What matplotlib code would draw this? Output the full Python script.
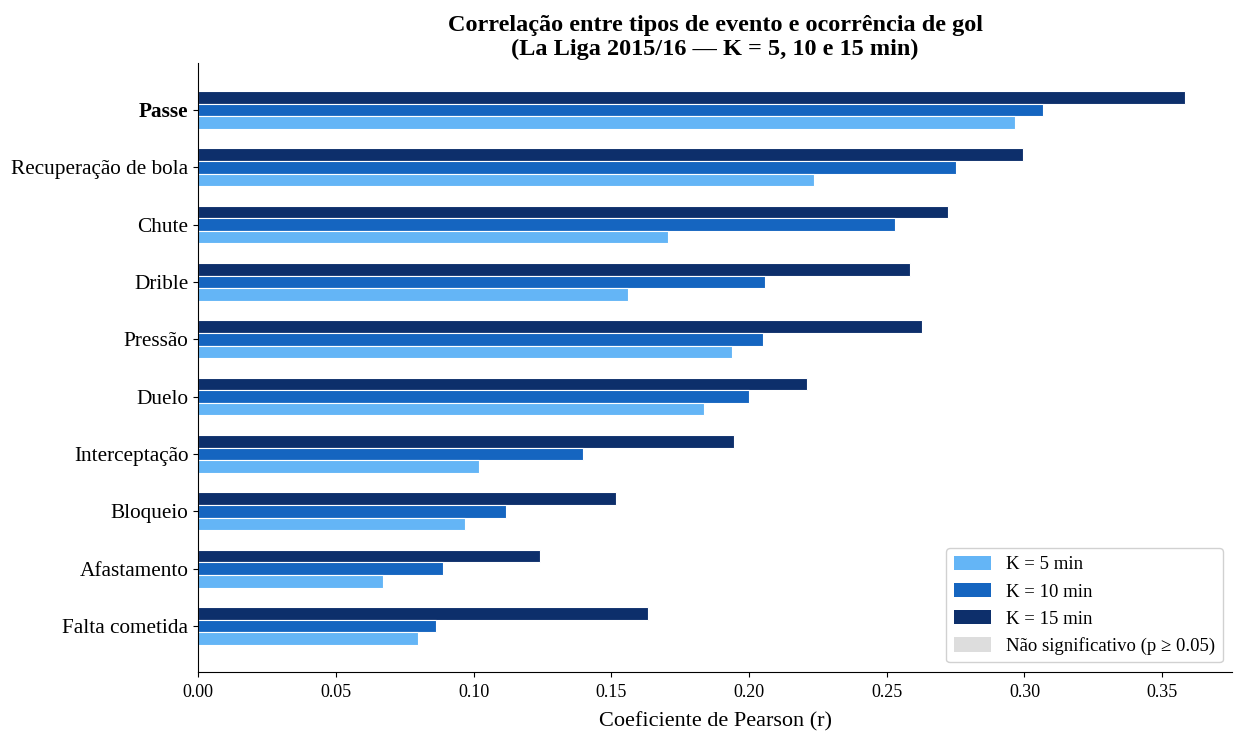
import numpy as np
import matplotlib
matplotlib.use("Agg")
import matplotlib.pyplot as plt
from matplotlib.patches import Patch

plt.rcParams['font.family'] = ['Liberation Serif', 'DejaVu Serif']

# Event types, strongest first
eventos = ['Passe', 'Recuperação de bola', 'Chute', 'Drible', 'Pressão',
           'Duelo', 'Interceptação', 'Bloqueio', 'Afastamento', 'Falta cometida']

# Pearson r per window K
r_k5 = [0.2967, 0.2237, 0.1707, 0.1559, 0.1937, 0.1835, 0.1019, 0.0968, 0.0671, 0.0799]
r_k10 = [0.3068, 0.2750, 0.2530, 0.2059, 0.2050, 0.2001, 0.1399, 0.1119, 0.0891, 0.0863]
r_k15 = [0.3582, 0.2994, 0.2723, 0.2586, 0.2627, 0.2210, 0.1944, 0.1518, 0.1243, 0.1633]

cores = {'K5': '#64b5f6', 'K10': '#1565c0', 'K15': '#0d2f6b'}
cor_ns = '#dddddd'

fig = plt.figure(figsize=(12.34, 7.31), dpi=100)
ax = fig.add_axes([0.1605, 0.081, 0.838, 0.833])

y = np.arange(len(eventos))
h = 0.22
ax.barh(y - h, r_k15, height=h, color=cores['K15'], edgecolor='white', linewidth=0.8)
ax.barh(y, r_k10, height=h, color=cores['K10'], edgecolor='white', linewidth=0.8)
ax.barh(y + h, r_k5, height=h, color=cores['K5'], edgecolor='white', linewidth=0.8)

ax.set_yticks(y)
ax.set_yticklabels(eventos, fontsize=15.3)
ax.get_yticklabels()[0].set_fontweight('bold')
ax.set_ylim(len(eventos) - 1 + 0.8, -0.82)
ax.set_xlim(0, max(r_k15) * 1.048)
ax.set_xticks(np.arange(0, 0.36, 0.05))
ax.set_xticklabels([f'{v:.2f}' for v in np.arange(0, 0.36, 0.05)], fontsize=13)
ax.tick_params(axis='x', pad=5)

ax.spines['top'].set_visible(False)
ax.spines['right'].set_visible(False)

ax.set_xlabel('Coeficiente de Pearson (r)', fontsize=16, labelpad=8)
ax.set_title('Correlação entre tipos de evento e ocorrência de gol\n(La Liga 2015/16 — K = 5, 10 e 15 min)',
             fontsize=17.5, fontweight='bold', pad=6, linespacing=1.15)

handles = [Patch(facecolor=cores['K5'], label='K = 5 min'),
           Patch(facecolor=cores['K10'], label='K = 10 min'),
           Patch(facecolor=cores['K15'], label='K = 15 min'),
           Patch(facecolor=cor_ns, label='Não significativo (p ≥ 0.05)')]
ax.legend(handles=handles, loc='lower right', fontsize=13.5, framealpha=0.9,
          handlelength=2.0, handleheight=0.8, labelspacing=0.5, borderaxespad=0.5)

fig.savefig('out.png', dpi=100)
